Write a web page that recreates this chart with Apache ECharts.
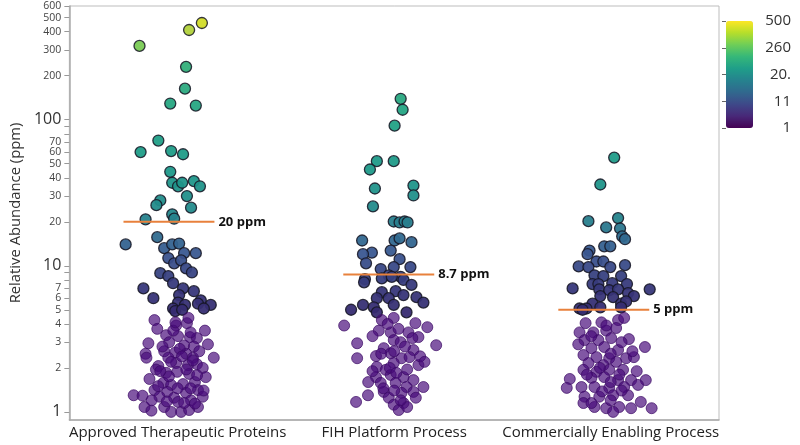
<!DOCTYPE html>
<html><head><meta charset="utf-8">
<script src="https://cdn.jsdelivr.net/npm/echarts@6/dist/echarts.min.js"></script>
<style>html,body{margin:0;padding:0;background:#fff}#c{width:800px;height:445px}</style>
</head><body><div id="c"></div>
<script>
const categories = ['Approved Therapeutic Proteins', 'FIH Platform Process', 'Commercially Enabling Process'];
const medians = [20, 8.7, 5];
const medianLabels = ['20 ppm', '8.7 ppm', '5 ppm'];
const medianShift = [-0.04, -0.025, -0.032];
const yTicks = [1,2,3,4,5,6,7,8,9,10,20,30,40,50,60,70,80,90,100,200,300,400,500,600];
const yLabelTicks = [1,2,3,4,5,6,7,10,20,30,40,50,60,70,100,200,300,400,500,600];
const yBigLabels = [1, 10, 100];
const colorbarLabels = ['1', '11', '20.', '260', '500'];

const approvedValues = [459,411,320,230,163,129,125,72,60,61,58,44,37,35,37,38,35,30,28,26,25,22.5,21,20.8,15.7,14,13.2,14,14.2,12.2,12.2,11.3,10.4,10.9,9.6,9.0,8.9,8.5,7.6,7.0,6.0,7.0,6.7,6.3,5.8,5.6,5.5,5.4,5.1,5.1,4.9,5.4,5.0,
 4.25,3.7,3.9,4.05,3.6,3.35,3.3,3.25,3.2,2.95,3.0,2.85,2.8,2.5,2.6,2.55,2.5,2.35,2.35,2.35,2.35,2.06,2.16,2.09,2.12,1.85,1.88,2.0,1.73,1.82,1.68,1.58,1.53,1.55,1.6,1.41,1.37,1.35,1.41,1.3,1.29,1.27,1.25,1.27,1.2,1.08,1.02,1.08,1.17,1.0,1.0,1.03,1.08,
 3.6,3.5,2.8,2.7,2.6,2.2,2.4,2.25,1.95,1.95,1.78,1.75,1.45,1.45,1.5,1.15,1.18,1.14,4.1,4.4,1.9,1.4,1.2,2.9];
const approvedJitter = [0.112,0.053,-0.176,0.039,0.034,-0.034,0.084,-0.089,-0.171,-0.030,0.025,-0.034,-0.025,0.002,0.021,0.075,0.103,0.043,-0.080,-0.098,0.062,-0.025,-0.016,-0.148,-0.094,-0.240,-0.062,-0.025,0.007,0.084,0.030,-0.043,-0.016,0.016,0.039,0.066,-0.080,-0.043,-0.021,-0.158,-0.112,0.025,0.075,0.007,0.107,0.002,0.094,0.153,0.121,-0.021,-0.011,0.034,0.021,
 -0.107,-0.094,-0.007,0.043,0.126,-0.053,0.002,0.057,0.089,-0.135,-0.039,0.030,0.075,-0.148,-0.062,-0.011,0.039,0.167,-0.144,-0.043,0.071,-0.089,-0.007,0.048,0.089,-0.053,-0.002,0.116,0.130,0.053,-0.130,-0.066,-0.030,0.025,0.080,-0.107,-0.048,0.039,0.094,-0.203,-0.162,-0.084,-0.016,0.116,0.062,-0.153,-0.121,-0.062,0.002,-0.030,0.016,0.053,0.094,
 -0.02,0.06,-0.07,0.01,0.10,-0.03,0.02,0.07,-0.10,0.04,0.09,-0.04,0.00,0.06,-0.09,0.03,-0.05,0.08,-0.01,0.05,-0.08,0.12,-0.12,0.14];

const fihValues = [139,117,91,52,52,45.6,33.8,35.4,30.3,25.5,20.1,19.8,20.1,19.8,14.9,14.9,15.4,14.5,12.3,12.0,10.4,12.7,11.1,9.5,9.8,9.8,8.1,8.6,8.4,7.7,8.2,8.4,8.0,7.4,6.6,6.7,6.0,6.0,6.3,6.1,5.6,5.4,5.0,5.2,5.4,4.8,4.8,
 3.9,4.25,4.4,4.05,3.8,3.6,3.5,3.5,3.25,2.95,3.1,3.0,3.2,2.86,2.73,2.65,2.33,2.41,2.52,2.33,2.37,2.16,2.09,2.03,1.94,1.73,1.79,1.73,1.65,1.48,1.58,1.58,1.48,1.37,1.35,1.37,1.3,1.17,1.25,1.12,1.15,1.03,
 4.0,3.7,3.3,2.8,2.5,2.6,2.4,2.0,1.95,1.85,1.45,1.4,1.25,1.08,1.9,2.2,1.6,1.2];
const fihJitter = [0.030,0.039,0.002,-0.080,-0.002,-0.112,-0.089,0.089,0.089,-0.098,-0.002,0.025,0.048,0.062,-0.148,0.002,0.025,0.080,-0.103,-0.144,-0.130,-0.016,0.025,-0.062,-0.002,0.075,-0.135,-0.025,0.030,-0.139,-0.057,-0.011,0.043,0.080,-0.057,0.007,-0.080,-0.025,0.043,0.103,0.135,-0.144,-0.199,-0.094,-0.002,0.057,-0.080,
 -0.231,-0.057,-0.002,0.098,0.153,-0.071,-0.016,0.066,0.112,-0.171,-0.002,0.030,0.084,0.194,-0.048,0.089,-0.171,-0.084,-0.016,0.034,0.071,-0.002,0.112,-0.080,-0.039,-0.084,-0.016,0.043,0.089,0.135,-0.062,0.007,0.057,-0.048,0.034,0.089,-0.121,-0.176,-0.025,-0.002,0.043,0.021,
 -0.03,0.02,-0.10,0.05,-0.06,0.00,0.12,-0.02,0.06,0.01,-0.05,0.00,0.10,0.06,-0.10,0.14,-0.12,0.03];

const commValues = [55,36,20.2,21.2,18.3,18.0,15.9,15.2,13.6,13.6,12.7,12.0,10.7,10.7,9.9,9.8,9.8,10.1,8.6,8.5,8.5,7.5,7.5,7.6,7.5,7.0,6.9,6.9,6.8,6.9,6.2,6.1,6.5,6.2,5.5,5.5,5.7,5.1,5.1,5.2,5.2,5.0,
 4.05,4.1,4.25,4.4,3.5,3.5,3.6,3.75,3.1,3.1,3.2,3.15,2.73,2.78,2.65,2.78,2.45,2.37,2.33,2.33,2.37,2.16,2.09,2.2,1.94,1.88,1.94,1.94,1.68,1.71,1.73,1.65,1.65,1.65,1.46,1.48,1.48,1.46,1.48,1.53,1.27,1.27,1.3,1.3,1.17,1.15,1.08,1.06,1.08,1.06,1.06,1.15,1.0,
 3.9,3.0,3.3,2.5,2.6,2.0,1.8,1.8,1.6,1.38,1.4,1.9,2.9,1.2];
const commJitter = [0.016,-0.048,-0.103,0.034,-0.021,0.043,0.053,0.066,-0.030,-0.002,-0.098,-0.107,-0.066,-0.034,-0.148,-0.103,-0.002,0.066,-0.075,-0.034,0.048,-0.084,-0.057,0.007,0.075,-0.176,0.180,-0.053,-0.007,0.034,-0.048,0.011,0.080,0.107,-0.084,0.048,0.071,-0.144,-0.112,-0.048,0.048,-0.130,
 -0.116,-0.043,0.034,0.062,-0.144,-0.080,-0.021,0.025,-0.121,-0.057,0.002,0.084,-0.089,-0.030,0.034,0.158,-0.126,-0.066,-0.007,0.071,0.107,-0.103,-0.034,0.025,-0.126,-0.066,-0.007,0.057,-0.189,-0.089,-0.030,0.034,0.094,0.162,-0.203,-0.135,-0.075,-0.007,0.062,0.126,-0.121,-0.053,0.011,0.080,0.139,-0.126,-0.075,-0.021,0.039,0.094,0.189,-0.089,0.011,
 -0.02,0.05,-0.09,0.00,0.10,-0.05,0.04,-0.11,0.00,-0.04,0.05,0.12,-0.15,0.00];

// colour stops (value -> colour), interpolated in log space
const colorStops = [[4.6,'#372a70'],[8,'#383d7e'],[12,'#3b5791'],[17,'#2e728f'],[22,'#25878c'],[40,'#1f988a'],[100,'#22a386'],[250,'#35b079'],[320,'#7acb55'],[420,'#b7d33a'],[480,'#dfe020']];
const lowFill = 'rgba(72,10,122,0.86)';
const lowBorder = 'rgba(58,8,100,0.88)';
const viridis = ['#440154','#482878','#3e4989','#31688e','#26828e','#1f9e89','#35b779','#6ece58','#b5de2b','#fde725'];

function hex(h){return [parseInt(h.slice(1,3),16),parseInt(h.slice(3,5),16),parseInt(h.slice(5,7),16)];}
function colorFor(v){
  const lv = Math.log10(v);
  if (v <= colorStops[0][0]) return colorStops[0][1];
  for (let i = 1; i < colorStops.length; i++) {
    if (v <= colorStops[i][0]) {
      const a = Math.log10(colorStops[i-1][0]), b = Math.log10(colorStops[i][0]);
      const t = (lv - a) / (b - a);
      const c1 = hex(colorStops[i-1][1]), c2 = hex(colorStops[i][1]);
      return 'rgb(' + c1.map((c,k)=>Math.round(c + (c2[k]-c)*t)).join(',') + ')';
    }
  }
  return colorStops[colorStops.length-1][1];
}
function styleFor(v){
  if (v < colorStops[0][0]) return {color: lowFill, borderColor: lowBorder, borderWidth: 1};
  return {color: colorFor(v), borderColor: 'rgba(22,22,36,0.9)', borderWidth: 1.3, opacity: 0.95};
}

const groups = [[approvedValues, approvedJitter],[fihValues, fihJitter],[commValues, commJitter]];
const series = groups.map(function(g, i){
  return {
    type: 'scatter', symbolSize: 11, z: 2, animation: false,
    data: g[0].map(function(v, k){ return {value: [i + 0.5 + g[1][k], v], itemStyle: styleFor(v)}; })
  };
});
medians.forEach(function(m, i){
  const c = i + 0.5 + medianShift[i];
  series.push({
    type: 'line', z: 5, silent: true, animation: false, symbol: 'none',
    data: [[c - 0.21, m], [c + 0.21, m]],
    lineStyle: {color: '#e8813c', width: 2},
    endLabel: {show: true, formatter: medianLabels[i], fontWeight: 'bold', fontSize: 13, color: '#111', distance: 4, fontFamily: 'Open Sans'}
  });
});
// dummy series carrying the colour-bar
series.push({type: 'scatter', xAxisIndex: 1, yAxisIndex: 1, data: [], silent: true});

const chart = echarts.init(document.getElementById('c'));
chart.setOption({
  animation: false,
  textStyle: {fontFamily: 'Open Sans'},
  grid: [
    {left: 62, right: 81, top: 6, bottom: 25, show: true, borderColor: '#bdbdbd', borderWidth: 1},
    {left: 726, top: 21, width: 27, height: 107, show: false}
  ],
  xAxis: [
    {type: 'value', min: 0, max: 3, gridIndex: 0,
     axisLine: {show: true, lineStyle: {color: '#aaaaaa', width: 1.5}},
     axisTick: {show: false}, splitLine: {show: false},
     axisLabel: {customValues: [0.5, 1.5, 2.5], formatter: function(v){ return categories[Math.floor(v)]; }, fontSize: 15, color: '#222', margin: 5}},
    {type: 'value', gridIndex: 1, show: false, min: 0, max: 1}
  ],
  yAxis: [
    {type: 'log', logBase: 10, min: 0.88, max: 600, gridIndex: 0,
     axisLine: {show: true, lineStyle: {color: '#aaaaaa', width: 1.5}},
     axisTick: {show: true, customValues: yTicks, length: 5, lineStyle: {color: '#999'}},
     splitLine: {show: false},
     axisLabel: {customValues: yLabelTicks, margin: 8,
       formatter: function(v){ return yBigLabels.indexOf(v) >= 0 ? '{b|' + v + '}' : '{a|' + v + '}'; },
       rich: {a: {fontSize: 10.5, color: '#444'}, b: {fontSize: 16, color: '#333'}}},
     name: 'Relative Abundance (ppm)', nameLocation: 'middle', nameGap: 42,
     nameTextStyle: {fontSize: 14.8, color: '#333'}},
    {type: 'value', gridIndex: 1, min: 0, max: 1, interval: 0.25, position: 'right',
     axisLine: {show: false}, splitLine: {show: false},
     axisTick: {show: true, inside: true, length: 4, lineStyle: {color: '#666'}},
     axisLabel: {formatter: function(v){ return colorbarLabels[Math.round(v * 4)]; }, align: 'right', margin: 38, fontSize: 15, color: '#333'}}
  ],
  visualMap: {
    type: 'continuous', min: 0, max: 1, seriesIndex: series.length - 1,
    left: 726, top: 21, itemWidth: 27, itemHeight: 107, padding: 0,
    calculable: false, text: null, showLabel: false, hoverLink: false,
    inRange: {color: viridis}
  },
  series: series
});
</script></body></html>
